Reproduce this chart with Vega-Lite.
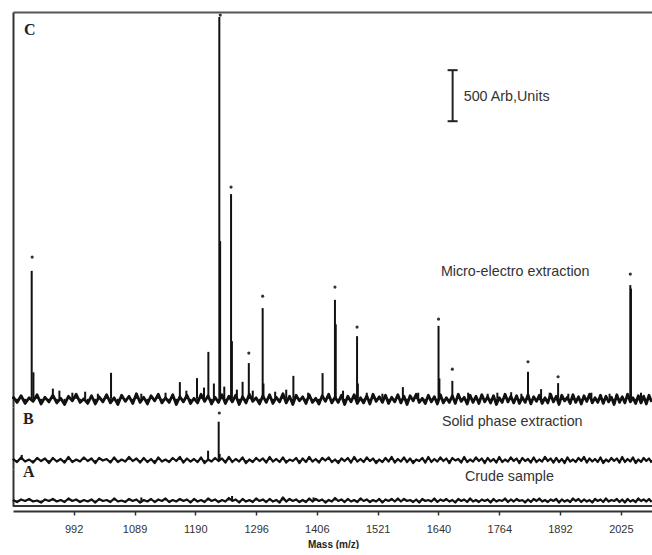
{
"$schema": "https://vega.github.io/schema/vega-lite/v6.json",
"padding": {"left": 11, "top": 12, "right": 0, "bottom": 0},
"background": "white",
"bounds": "flush",
"spacing": 0,
"config": {"view": {"stroke": null}, "concat": {"spacing": 0}},
"datasets": {
"noise": [
{"m":900,"c":20,"b":10,"a":5},{"m":906,"c":-35,"b":-20,"a":-15},{"m":912,"c":30,"b":25,"a":10},{"m":918,"c":-45,"b":-15,"a":-5},{"m":924,"c":10,"b":5,"a":15},{"m":930,"c":-25,"b":-25,"a":-10},{"m":936,"c":40,"b":20,"a":0},{"m":942,"c":-50,"b":-10,"a":-20},{"m":948,"c":15,"b":15,"a":10},{"m":954,"c":-30,"b":-30,"a":-5},
{"m":960,"c":35,"b":20,"a":15},{"m":966,"c":-40,"b":-15,"a":-10},{"m":972,"c":5,"b":10,"a":5},{"m":978,"c":-55,"b":-25,"a":-15},{"m":984,"c":25,"b":30,"a":20},{"m":990,"c":-20,"b":-20,"a":-5},{"m":996,"c":45,"b":5,"a":10},{"m":1002,"c":-35,"b":-15,"a":-15},{"m":1008,"c":0,"b":25,"a":5},{"m":1014,"c":-45,"b":-10,"a":-10},
{"m":1020,"c":30,"b":15,"a":10},{"m":1026,"c":-50,"b":-30,"a":-20},{"m":1032,"c":20,"b":20,"a":15},{"m":1038,"c":-30,"b":-5,"a":-5},{"m":1044,"c":40,"b":10,"a":5},{"m":1050,"c":-40,"b":-25,"a":-15},{"m":1056,"c":10,"b":25,"a":20},{"m":1062,"c":-55,"b":-20,"a":-10},{"m":1068,"c":35,"b":5,"a":0},{"m":1074,"c":-25,"b":-15,"a":-15},
{"m":1080,"c":25,"b":30,"a":15},{"m":1086,"c":-45,"b":-10,"a":-5},{"m":1092,"c":50,"b":15,"a":10},{"m":1098,"c":-35,"b":-25,"a":-20},{"m":1104,"c":15,"b":20,"a":5},{"m":1110,"c":-50,"b":-20,"a":-10},{"m":1116,"c":30,"b":10,"a":15},{"m":1122,"c":-20,"b":-30,"a":-15},{"m":1128,"c":45,"b":25,"a":10},{"m":1134,"c":-40,"b":-15,"a":-5},
{"m":1140,"c":10,"b":5,"a":20},{"m":1146,"c":-35,"b":-20,"a":-15},{"m":1152,"c":40,"b":20,"a":5},{"m":1158,"c":-55,"b":-10,"a":-10},{"m":1164,"c":20,"b":30,"a":15},{"m":1170,"c":-30,"b":-25,"a":-5},{"m":1176,"c":35,"b":15,"a":10},{"m":1182,"c":-45,"b":-15,"a":-20},{"m":1188,"c":5,"b":10,"a":15},{"m":1194,"c":-40,"b":-20,"a":-10},
{"m":1200,"c":45,"b":25,"a":5},{"m":1206,"c":-25,"b":-30,"a":-15},{"m":1212,"c":30,"b":5,"a":20},{"m":1218,"c":-50,"b":-15,"a":-5},{"m":1224,"c":15,"b":20,"a":10},{"m":1230,"c":-35,"b":-10,"a":-15},{"m":1236,"c":40,"b":15,"a":5},{"m":1242,"c":-45,"b":-25,"a":-10},{"m":1248,"c":25,"b":30,"a":25},{"m":1254,"c":-30,"b":-20,"a":-5},
{"m":1260,"c":35,"b":10,"a":10},{"m":1266,"c":-55,"b":-15,"a":-20},{"m":1272,"c":20,"b":25,"a":15},{"m":1278,"c":-40,"b":-30,"a":-10},{"m":1284,"c":45,"b":5,"a":5},{"m":1290,"c":-25,"b":-20,"a":-15},{"m":1296,"c":10,"b":20,"a":20},{"m":1302,"c":-50,"b":-10,"a":-5},{"m":1308,"c":30,"b":15,"a":10},{"m":1314,"c":-35,"b":-25,"a":-15},
{"m":1320,"c":40,"b":30,"a":15},{"m":1326,"c":-45,"b":-15,"a":-10},{"m":1332,"c":15,"b":10,"a":5},{"m":1338,"c":-30,"b":-20,"a":-20},{"m":1344,"c":50,"b":25,"a":30},{"m":1350,"c":-40,"b":-25,"a":-10},{"m":1356,"c":25,"b":5,"a":15},{"m":1362,"c":-55,"b":-10,"a":-5},{"m":1368,"c":35,"b":20,"a":10},{"m":1374,"c":-20,"b":-30,"a":-15},
{"m":1380,"c":20,"b":15,"a":5},{"m":1386,"c":-45,"b":-20,"a":-15},{"m":1392,"c":40,"b":30,"a":20},{"m":1398,"c":-35,"b":-15,"a":-10},{"m":1404,"c":5,"b":10,"a":15},{"m":1410,"c":-50,"b":-25,"a":-5},{"m":1416,"c":30,"b":20,"a":10},{"m":1422,"c":-25,"b":-5,"a":-20},{"m":1428,"c":45,"b":25,"a":5},{"m":1434,"c":-40,"b":-20,"a":-10},
{"m":1440,"c":15,"b":5,"a":25},{"m":1446,"c":-35,"b":-30,"a":-5},{"m":1452,"c":35,"b":15,"a":10},{"m":1458,"c":-55,"b":-10,"a":-15},{"m":1464,"c":25,"b":20,"a":15},{"m":1470,"c":-30,"b":-25,"a":-10},{"m":1476,"c":40,"b":30,"a":5},{"m":1482,"c":-45,"b":-15,"a":-15},{"m":1488,"c":10,"b":10,"a":20},{"m":1494,"c":-40,"b":-20,"a":-5},
{"m":1500,"c":30,"b":25,"a":10},{"m":1506,"c":-50,"b":-10,"a":-15},{"m":1512,"c":45,"b":15,"a":5},{"m":1518,"c":-25,"b":-30,"a":-10},{"m":1524,"c":20,"b":5,"a":15},{"m":1530,"c":-35,"b":-20,"a":-20},{"m":1536,"c":35,"b":20,"a":10},{"m":1542,"c":-45,"b":-15,"a":-5},{"m":1548,"c":15,"b":30,"a":15},{"m":1554,"c":-30,"b":-25,"a":-10},
{"m":1560,"c":40,"b":10,"a":20},{"m":1566,"c":-40,"b":-15,"a":-10},{"m":1572,"c":25,"b":25,"a":15},{"m":1578,"c":-55,"b":-20,"a":-5},{"m":1584,"c":30,"b":15,"a":5},{"m":1590,"c":-20,"b":-30,"a":-15},{"m":1596,"c":45,"b":5,"a":10},{"m":1602,"c":-35,"b":-10,"a":-20},{"m":1608,"c":5,"b":20,"a":15},{"m":1614,"c":-45,"b":-25,"a":-5},
{"m":1620,"c":35,"b":30,"a":5},{"m":1626,"c":-30,"b":-20,"a":-10},{"m":1632,"c":20,"b":10,"a":20},{"m":1638,"c":-50,"b":-15,"a":-15},{"m":1644,"c":40,"b":25,"a":10},{"m":1650,"c":-40,"b":-10,"a":-5},{"m":1656,"c":10,"b":15,"a":15},{"m":1662,"c":-35,"b":-30,"a":-10},{"m":1668,"c":30,"b":20,"a":5},{"m":1674,"c":-45,"b":-5,"a":-20},
{"m":1680,"c":45,"b":10,"a":15},{"m":1686,"c":-25,"b":-25,"a":-5},{"m":1692,"c":15,"b":30,"a":10},{"m":1698,"c":-50,"b":-20,"a":-15},{"m":1704,"c":35,"b":5,"a":20},{"m":1710,"c":-35,"b":-15,"a":-10},{"m":1716,"c":25,"b":25,"a":5},{"m":1722,"c":-45,"b":-10,"a":-15},{"m":1728,"c":40,"b":15,"a":10},{"m":1734,"c":-30,"b":-30,"a":-5},
{"m":1740,"c":20,"b":20,"a":10},{"m":1746,"c":-40,"b":-15,"a":-20},{"m":1752,"c":30,"b":10,"a":15},{"m":1758,"c":-55,"b":-25,"a":-10},{"m":1764,"c":10,"b":30,"a":5},{"m":1770,"c":-35,"b":-20,"a":-5},{"m":1776,"c":45,"b":5,"a":20},{"m":1782,"c":-30,"b":-15,"a":-15},{"m":1788,"c":25,"b":25,"a":10},{"m":1794,"c":-40,"b":-10,"a":-10},
{"m":1800,"c":30,"b":15,"a":15},{"m":1806,"c":-45,"b":-30,"a":-5},{"m":1812,"c":15,"b":20,"a":5},{"m":1818,"c":-35,"b":-10,"a":-20},{"m":1824,"c":40,"b":10,"a":10},{"m":1830,"c":-50,"b":-25,"a":-15},{"m":1836,"c":20,"b":25,"a":15},{"m":1842,"c":-25,"b":-20,"a":-5},{"m":1848,"c":35,"b":5,"a":20},{"m":1854,"c":-45,"b":-15,"a":-10},
{"m":1860,"c":10,"b":30,"a":5},{"m":1866,"c":-40,"b":-10,"a":-15},{"m":1872,"c":45,"b":15,"a":10},{"m":1878,"c":-30,"b":-25,"a":-5},{"m":1884,"c":25,"b":20,"a":15},{"m":1890,"c":-55,"b":-20,"a":-20},{"m":1896,"c":35,"b":10,"a":10},{"m":1902,"c":-20,"b":-30,"a":-10},{"m":1908,"c":15,"b":25,"a":5},{"m":1914,"c":-45,"b":-15,"a":-15},
{"m":1920,"c":40,"b":5,"a":20},{"m":1926,"c":-35,"b":-20,"a":-5},{"m":1932,"c":20,"b":20,"a":15},{"m":1938,"c":-50,"b":-10,"a":-15},{"m":1944,"c":30,"b":30,"a":10},{"m":1950,"c":-25,"b":-25,"a":-10},{"m":1956,"c":45,"b":15,"a":5},{"m":1962,"c":-40,"b":-15,"a":-20},{"m":1968,"c":10,"b":10,"a":15},{"m":1974,"c":-35,"b":-20,"a":-5},
{"m":1980,"c":35,"b":25,"a":10},{"m":1986,"c":-45,"b":-30,"a":-15},{"m":1992,"c":25,"b":5,"a":20},{"m":1998,"c":-30,"b":-15,"a":-10},{"m":2004,"c":15,"b":20,"a":5},{"m":2010,"c":-55,"b":-10,"a":-5},{"m":2016,"c":40,"b":15,"a":15},{"m":2022,"c":-35,"b":-25,"a":-15},{"m":2028,"c":20,"b":30,"a":10},{"m":2034,"c":-40,"b":-20,"a":-20},
{"m":2040,"c":45,"b":10,"a":15},{"m":2046,"c":-30,"b":-15,"a":-10},{"m":2052,"c":10,"b":25,"a":5},{"m":2058,"c":-45,"b":-30,"a":-15},{"m":2064,"c":30,"b":5,"a":20},{"m":2070,"c":-40,"b":-20,"a":-5},{"m":2076,"c":25,"b":20,"a":10},{"m":2082,"c":-50,"b":-10,"a":-10},{"m":2088,"c":35,"b":15,"a":15},{"m":2094,"c":-30,"b":-25,"a":-15}
],
"peaks": [
{"panel":"C","m":927.9,"h":1254},{"panel":"C","m":930.5,"h":260},{"panel":"C","m":960,"h":100},{"panel":"C","m":970,"h":80},{"panel":"C","m":990,"h":60},{"panel":"C","m":1010,"h":70},{"panel":"C","m":1030,"h":50},{"panel":"C","m":1051,"h":255},{"panel":"C","m":1100,"h":50},{"panel":"C","m":1140,"h":60},{"panel":"C","m":1164,"h":164},{"panel":"C","m":1175,"h":80},{"panel":"C","m":1193,"h":203},{"panel":"C","m":1205,"h":110},{"panel":"C","m":1212.5,"h":460},{"panel":"C","m":1222,"h":150},{"panel":"C","m":1231.4,"h":3741},{"panel":"C","m":1232.8,"h":1545},{"panel":"C","m":1240,"h":120},{"panel":"C","m":1251.8,"h":2006},{"panel":"C","m":1253.3,"h":565},{"panel":"C","m":1262,"h":90},{"panel":"C","m":1272,"h":167},{"panel":"C","m":1283,"h":350},{"panel":"C","m":1290,"h":80},{"panel":"C","m":1307.6,"h":889},{"panel":"C","m":1309,"h":150},{"panel":"C","m":1330,"h":70},{"panel":"C","m":1350,"h":90},{"panel":"C","m":1363,"h":225},{"panel":"C","m":1390,"h":60},{"panel":"C","m":1416.7,"h":252},{"panel":"C","m":1439.8,"h":970},{"panel":"C","m":1441.3,"h":730},{"panel":"C","m":1455,"h":80},{"panel":"C","m":1481.5,"h":614},{"panel":"C","m":1483,"h":150},{"panel":"C","m":1500,"h":60},{"panel":"C","m":1530,"h":50},{"panel":"C","m":1569.8,"h":115},{"panel":"C","m":1600,"h":60},{"panel":"C","m":1640.3,"h":715},{"panel":"C","m":1642,"h":200},{"panel":"C","m":1668,"h":176},{"panel":"C","m":1700,"h":60},{"panel":"C","m":1740,"h":50},{"panel":"C","m":1760,"h":60},{"panel":"C","m":1788.7,"h":65},{"panel":"C","m":1810,"h":50},{"panel":"C","m":1824,"h":265},{"panel":"C","m":1851.7,"h":95},{"panel":"C","m":1870,"h":60},{"panel":"C","m":1888,"h":154},{"panel":"C","m":1910,"h":50},{"panel":"C","m":1960,"h":60},{"panel":"C","m":2000,"h":50},{"panel":"C","m":2046,"h":1114},{"panel":"C","m":2047.5,"h":1080},{"panel":"C","m":2070,"h":60},
{"panel":"B","m":913,"h":50},{"panel":"B","m":1212,"h":91},{"panel":"B","m":1230.3,"h":375},{"panel":"B","m":1232,"h":60},
{"panel":"A","m":1100,"h":30},{"panel":"A","m":1253.6,"h":44},{"panel":"A","m":1400,"h":30}
],
"stars": [
{"panel":"C","m":928.6,"h":1389},{"panel":"C","m":1233,"h":3760},{"panel":"C","m":1251.8,"h":2075},{"panel":"C","m":1283,"h":448},{"panel":"C","m":1307.6,"h":1006},{"panel":"C","m":1439.8,"h":1095},{"panel":"C","m":1481.5,"h":703},{"panel":"C","m":1640.3,"h":781},{"panel":"C","m":1668,"h":291},{"panel":"C","m":1824,"h":363},{"panel":"C","m":1888,"h":216},{"panel":"C","m":2046,"h":1222},
{"panel":"B","m":1231.4,"h":460}
],
"labels": [
{"panel":"C","kind":"letter","m":916.5,"h":3613,"text":"C"},
{"panel":"B","kind":"letter","m":915,"h":402,"text":"B"},
{"panel":"A","kind":"letter","m":915,"h":279,"text":"A"},
{"panel":"C","kind":"caption","m":1645,"h":1242,"text":"Micro-electro extraction"},
{"panel":"B","kind":"caption","m":1647,"h":372,"text":"Solid phase extraction"},
{"panel":"A","kind":"caption","m":1693.5,"h":230,"text":"Crude sample"},
{"panel":"C","kind":"caption","m":1691,"h":2957,"text":"500 Arb,Units"}
],
"bar": [{"m":1668.6,"lo":2720,"hi":3220}],
"caps": [{"m1":1658.5,"m2":1678.7,"h":2720},{"m1":1658.5,"m2":1678.7,"h":3220}]
},
"vconcat": [
{
"width": 640, "height": 395,
"resolve": {"axis": {"x": "independent", "y": "independent"}},
"layer": [
{"data":{"name":"noise"},"mark":{"type":"rule","color":"#111","strokeWidth":2},
 "encoding":{
  "x":{"field":"m","type":"quantitative","scale":{"type":"sqrt","domain":[900,2097],"zero":false,"nice":false},"axis":{"orient":"top","labels":false,"ticks":false,"grid":false,"title":null,"domainColor":"#555","domainWidth":2}},
  "y":{"field":"c","type":"quantitative","scale":{"domain":[-80,3790],"zero":false,"nice":false},"axis":{"orient":"left","labels":false,"ticks":false,"grid":false,"title":null,"domainColor":"#333","domainWidth":2}},
  "y2":{"datum":0}}},
{"data":{"name":"noise"},"mark":{"type":"line","color":"#111","strokeWidth":2.8,"strokeJoin":"round"},
 "encoding":{"x":{"field":"m","type":"quantitative","axis":null},"y":{"field":"c","type":"quantitative","axis":null}}},
{"data":{"name":"peaks"},"transform":[{"filter":"datum.panel==='C'"}],"mark":{"type":"rule","color":"#111","strokeWidth":2},
 "encoding":{"x":{"field":"m","type":"quantitative","axis":null},"y":{"field":"h","type":"quantitative","axis":null},"y2":{"datum":0}}},
{"data":{"name":"stars"},"transform":[{"filter":"datum.panel==='C'"}],"mark":{"type":"point","filled":true,"size":10,"color":"#333","opacity":1},
 "encoding":{"x":{"field":"m","type":"quantitative","axis":null},"y":{"field":"h","type":"quantitative","axis":null}}},
{"data":{"name":"bar"},"mark":{"type":"rule","color":"#222","strokeWidth":2},
 "encoding":{"x":{"field":"m","type":"quantitative","axis":null},"y":{"field":"lo","type":"quantitative","axis":null},"y2":{"field":"hi"}}},
{"data":{"name":"caps"},"mark":{"type":"rule","color":"#222","strokeWidth":2},
 "encoding":{"x":{"field":"m1","type":"quantitative","axis":null},"x2":{"field":"m2"},"y":{"field":"h","type":"quantitative","axis":null}}},
{"data":{"name":"labels"},"transform":[{"filter":"datum.panel==='C' && datum.kind==='letter'"}],"mark":{"type":"text","font":"Liberation Serif","fontWeight":"bold","fontSize":16,"align":"left","baseline":"middle","color":"#222"},
 "encoding":{"x":{"field":"m","type":"quantitative","axis":null},"y":{"field":"h","type":"quantitative","axis":null},"text":{"field":"text"}}},
{"data":{"name":"labels"},"transform":[{"filter":"datum.panel==='C' && datum.kind==='caption'"}],"mark":{"type":"text","font":"Liberation Sans","fontSize":14.3,"align":"left","baseline":"middle","color":"#333"},
 "encoding":{"x":{"field":"m","type":"quantitative","axis":null},"y":{"field":"h","type":"quantitative","axis":null},"text":{"field":"text"}}}
]
},
{
"width": 640, "height": 62,
"resolve": {"axis": {"x": "independent", "y": "independent"}},
"layer": [
{"data":{"name":"noise"},"mark":{"type":"rule","color":"#111","strokeWidth":1.6},
 "encoding":{
  "x":{"field":"m","type":"quantitative","scale":{"type":"sqrt","domain":[900,2097],"zero":false,"nice":false},"axis":null},
  "y":{"field":"b","type":"quantitative","scale":{"domain":[-88,519],"zero":false,"nice":false},"axis":{"orient":"left","labels":false,"ticks":false,"grid":false,"title":null,"domainColor":"#333","domainWidth":2}},
  "y2":{"datum":0}}},
{"data":{"name":"noise"},"mark":{"type":"line","color":"#111","strokeWidth":2.2,"strokeJoin":"round"},
 "encoding":{"x":{"field":"m","type":"quantitative","axis":null},"y":{"field":"b","type":"quantitative","axis":null}}},
{"data":{"name":"peaks"},"transform":[{"filter":"datum.panel==='B'"}],"mark":{"type":"rule","color":"#111","strokeWidth":2},
 "encoding":{"x":{"field":"m","type":"quantitative","axis":null},"y":{"field":"h","type":"quantitative","axis":null},"y2":{"datum":0}}},
{"data":{"name":"stars"},"transform":[{"filter":"datum.panel==='B'"}],"mark":{"type":"point","filled":true,"size":10,"color":"#333","opacity":1},
 "encoding":{"x":{"field":"m","type":"quantitative","axis":null},"y":{"field":"h","type":"quantitative","axis":null}}},
{"data":{"name":"labels"},"transform":[{"filter":"datum.panel==='B' && datum.kind==='letter'"}],"mark":{"type":"text","font":"Liberation Serif","fontWeight":"bold","fontSize":16,"align":"left","baseline":"middle","color":"#222"},
 "encoding":{"x":{"field":"m","type":"quantitative","axis":null},"y":{"field":"h","type":"quantitative","axis":null},"text":{"field":"text"}}},
{"data":{"name":"labels"},"transform":[{"filter":"datum.panel==='B' && datum.kind==='caption'"}],"mark":{"type":"text","font":"Liberation Sans","fontSize":14.3,"align":"left","baseline":"middle","color":"#333"},
 "encoding":{"x":{"field":"m","type":"quantitative","axis":null},"y":{"field":"h","type":"quantitative","axis":null},"text":{"field":"text"}}}
]
},
{
"width": 640, "height": 37,
"resolve": {"axis": {"x": "independent", "y": "independent"}},
"layer": [
{"data":{"name":"noise"},"mark":{"type":"rule","color":"#111","strokeWidth":1.6},
 "encoding":{
  "x":{"field":"m","type":"quantitative","scale":{"type":"sqrt","domain":[900,2097],"zero":false,"nice":false},
       "axis":{"orient":"bottom","offset":5,"values":[992,1089,1190,1296,1406,1521,1640,1764,1892,2025],"format":"d","grid":false,"ticks":true,"tickSize":4,"tickWidth":1.5,"tickColor":"#333","labels":true,"labelFont":"Liberation Sans","labelFontSize":11,"labelColor":"#333","labelPadding":8,"title":"Mass (m/z)","titleFont":"Liberation Sans","titleFontSize":10,"titleFontWeight":"bold","titleColor":"#222","titlePadding":5,"domainColor":"#333","domainWidth":2}},
  "y":{"field":"a","type":"quantitative","scale":{"domain":[-54,309],"zero":false,"nice":false},"axis":{"orient":"left","labels":false,"ticks":false,"grid":false,"title":null,"domainColor":"#333","domainWidth":2}},
  "y2":{"datum":0}}},
{"data":{"name":"noise"},"mark":{"type":"line","color":"#111","strokeWidth":2.2,"strokeJoin":"round"},
 "encoding":{"x":{"field":"m","type":"quantitative","axis":null},"y":{"field":"a","type":"quantitative","axis":null}}},
{"data":{"name":"peaks"},"transform":[{"filter":"datum.panel==='A'"}],"mark":{"type":"rule","color":"#111","strokeWidth":2},
 "encoding":{"x":{"field":"m","type":"quantitative","axis":null},"y":{"field":"h","type":"quantitative","axis":null},"y2":{"datum":0}}},
{"data":{"name":"peaks"},"transform":[{"filter":"datum.panel==='A'"}],"mark":{"type":"rule","color":"#333","strokeWidth":2},
 "encoding":{"x":{"datum":900,"type":"quantitative","axis":null},"x2":{"datum":2097},"y":{"datum":-54,"type":"quantitative","axis":null}}},
{"data":{"name":"labels"},"transform":[{"filter":"datum.panel==='A' && datum.kind==='letter'"}],"mark":{"type":"text","font":"Liberation Serif","fontWeight":"bold","fontSize":16,"align":"left","baseline":"middle","color":"#222"},
 "encoding":{"x":{"field":"m","type":"quantitative","axis":null},"y":{"field":"h","type":"quantitative","axis":null},"text":{"field":"text"}}},
{"data":{"name":"labels"},"transform":[{"filter":"datum.panel==='A' && datum.kind==='caption'"}],"mark":{"type":"text","font":"Liberation Sans","fontSize":14.3,"align":"left","baseline":"middle","color":"#333"},
 "encoding":{"x":{"field":"m","type":"quantitative","axis":null},"y":{"field":"h","type":"quantitative","axis":null},"text":{"field":"text"}}}
]
}
]
}
